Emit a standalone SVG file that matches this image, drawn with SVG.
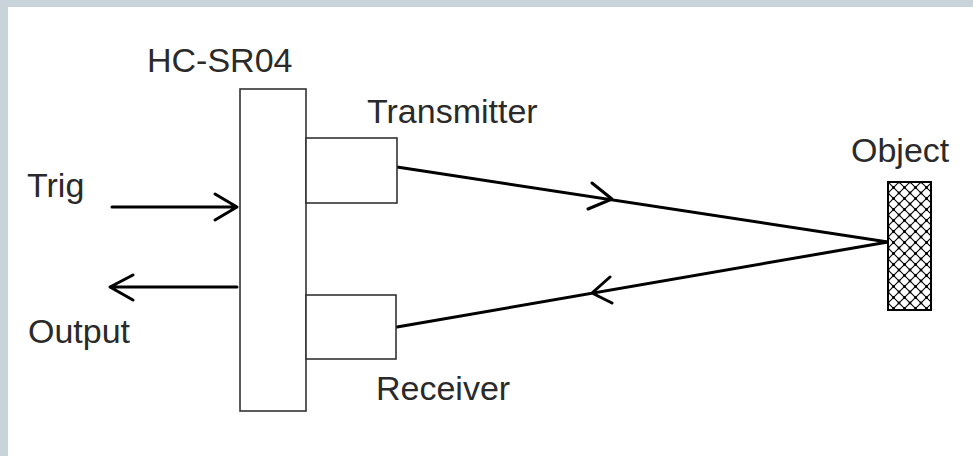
<svg xmlns="http://www.w3.org/2000/svg" width="973" height="456" viewBox="0 0 973 456">
<style>
.lbl{font-family:"Liberation Sans",Arial,sans-serif;font-size:34px;fill:#2a2a2a}
.box{fill:#fff;stroke:#333;stroke-width:1.6}
.wire{fill:none;stroke:#000;stroke-width:3;stroke-linecap:round;stroke-linejoin:round}
</style>
<defs>
<pattern id="hatch" patternUnits="userSpaceOnUse" width="11" height="11" x="888" y="182">
<rect width="11" height="11" fill="#fff"/>
<path d="M0,0L11,11M11,0L0,11" stroke="#000" stroke-width="1.1"/>
<circle cx="5.5" cy="5.5" r="1.4" fill="#000"/>
<circle cx="0" cy="0" r="1.4" fill="#000"/>
<circle cx="11" cy="0" r="1.4" fill="#000"/>
<circle cx="0" cy="11" r="1.4" fill="#000"/>
<circle cx="11" cy="11" r="1.4" fill="#000"/>
</pattern>
</defs>
<rect x="0" y="0" width="973" height="456" fill="#c9d3da"/>
<rect x="8" y="7" width="965" height="449" fill="#fff"/>
<g id="connectors">
<path class="wire" d="M112,207H237M215,194L237,207L215,220"/>
<path class="wire" d="M237,287H110M133,275L110,287L133,300"/>
<path class="wire" d="M397,167L888,242M592,183L612,199L588,209"/>
<path class="wire" d="M888,242L397,327M610,277L592,293L612,303"/>
</g>
<g id="hcsr04">
<rect class="box" x="240" y="89" width="66" height="322"/>
<text class="lbl" x="147" y="72">HC-SR04</text>
</g>
<g id="transmitter">
<rect class="box" x="306" y="138" width="91" height="65"/>
<text class="lbl" x="367" y="123">Transmitter</text>
</g>
<g id="receiver">
<rect class="box" x="306" y="295" width="90" height="64"/>
<text class="lbl" x="376" y="400">Receiver</text>
</g>
<g id="object">
<rect x="888" y="182" width="43" height="128" fill="url(#hatch)" stroke="#000" stroke-width="2"/>
<text class="lbl" x="851" y="162">Object</text>
</g>
<g id="trig"><text class="lbl" x="27" y="197">Trig</text></g>
<g id="output"><text class="lbl" x="28" y="343">Output</text></g>
</svg>
